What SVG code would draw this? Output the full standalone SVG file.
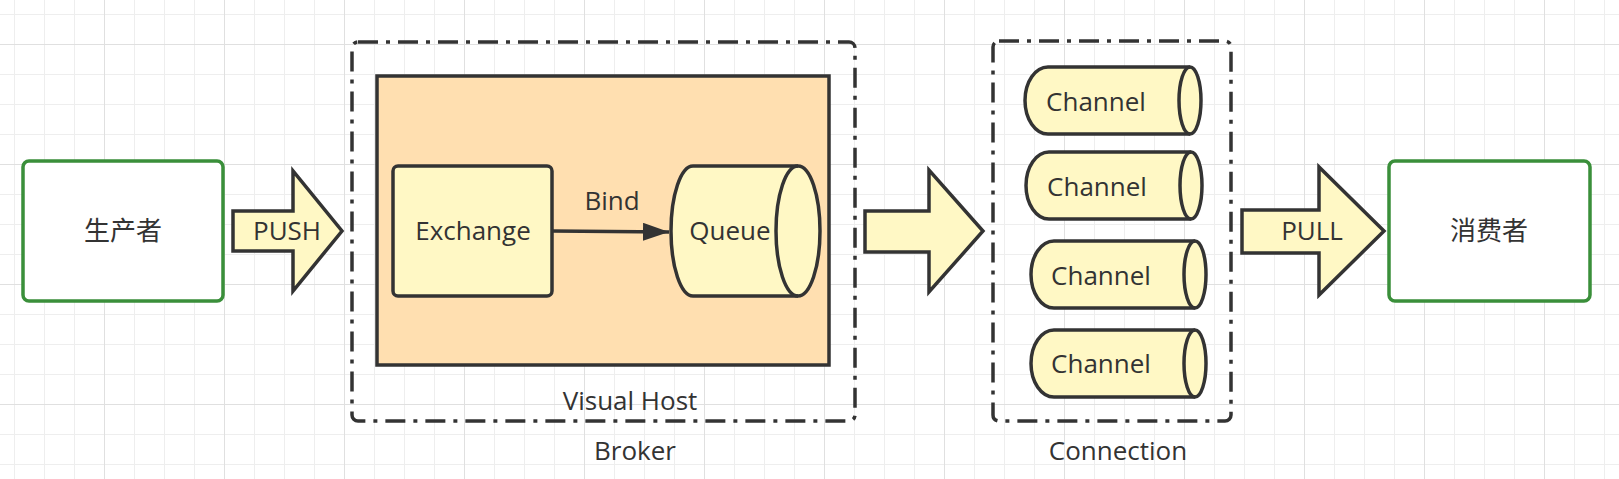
<svg xmlns="http://www.w3.org/2000/svg" width="1619" height="479" viewBox="0 0 1619 479">
  <defs>
    <pattern id="gridMinor" x="14" y="14" width="30" height="30" patternUnits="userSpaceOnUse">
      <rect x="0" y="0" width="1" height="30" fill="#eeeeee"/>
      <rect x="0" y="0" width="30" height="1" fill="#eeeeee"/>
    </pattern>
    <pattern id="gridMajor" x="104" y="44" width="120" height="120" patternUnits="userSpaceOnUse">
      <rect x="0" y="0" width="1" height="120" fill="#e0e0e0"/>
      <rect x="0" y="0" width="120" height="1" fill="#e0e0e0"/>
    </pattern>
    <marker id="arrowHead" viewBox="0 0 26 18" refX="26" refY="9" markerWidth="26" markerHeight="18" markerUnits="userSpaceOnUse" orient="auto">
      <path d="M0,0 L26,9 L0,18 Z" fill="#333333"/>
    </marker>
  </defs>
  <style>
    .txt { font-family: "Open Sans", "Noto Sans CJK SC", sans-serif; font-size: 26px; fill: #333333; text-anchor: middle; }
    .green { fill: #ffffff; stroke: #3a8f3a; stroke-width: 3.5; }
    .dark { stroke: #333333; stroke-width: 3.5; }
    .yellow { fill: #fff8c5; }
    .frame { fill: none; stroke: #333333; stroke-width: 3.5; stroke-dasharray: 20 8 4 8; }
  </style>
  <rect x="0" y="0" width="1619" height="479" fill="#ffffff"/>
  <rect x="0" y="0" width="1619" height="479" fill="url(#gridMinor)"/>
  <rect x="0" y="0" width="1619" height="479" fill="url(#gridMajor)"/>

  <g id="producer">
    <rect class="green" x="23" y="161" width="200" height="140" rx="6"/>
    <text class="txt" x="123" y="240">生产者</text>
  </g>

  <g id="push-arrow">
    <polygon class="dark yellow" points="233,211 293,211 293,171 342,231 293,291 293,251 233,251"/>
    <text class="txt" x="287" y="240">PUSH</text>
  </g>

  <g id="broker">
    <rect class="frame" x="352" y="42" width="503" height="379" rx="6"/>
    <text class="txt" x="635" y="460">Broker</text>
  </g>

  <g id="visual-host">
    <rect class="dark" fill="#ffdfb0" x="377" y="76" width="452" height="289"/>
    <text class="txt" x="630" y="410">Visual Host</text>
  </g>

  <g id="exchange">
    <rect class="dark yellow" x="393" y="166" width="159" height="130" rx="5"/>
    <text class="txt" x="473" y="240">Exchange</text>
  </g>

  <g id="queue">
    <path class="dark yellow" d="M693,166 L798,166 A22,65 0 0 1 798,296 L693,296 A22,65 0 0 1 693,166 Z"/>
    <path class="dark" fill="none" d="M798,166 A22,65 0 0 0 798,296"/>
    <text class="txt" x="730" y="240">Queue</text>
  </g>

  <g id="middle-arrow">
    <polygon class="dark yellow" points="865,211 929,211 929,170 983,231 929,292 929,252 865,252"/>
  </g>

  <g id="connection">
    <rect class="frame" x="993" y="41" width="238" height="380" rx="6"/>
    <text class="txt" x="1118" y="460">Connection</text>
  </g>

  <g id="channel-1">
    <path class="dark yellow" d="M1048,67 L1190,67 A11,33.5 0 0 1 1190,134 L1048,134 A23,33.5 0 0 1 1048,67 Z"/>
    <path class="dark" fill="none" d="M1190,67 A11,33.5 0 0 0 1190,134"/>
    <text class="txt" x="1096" y="111">Channel</text>
  </g>

  <g id="channel-2">
    <path class="dark yellow" d="M1049,152 L1191,152 A11,33.5 0 0 1 1191,219 L1049,219 A23,33.5 0 0 1 1049,152 Z"/>
    <path class="dark" fill="none" d="M1191,152 A11,33.5 0 0 0 1191,219"/>
    <text class="txt" x="1097" y="196">Channel</text>
  </g>

  <g id="channel-3">
    <path class="dark yellow" d="M1054,241 L1195,241 A11,33.5 0 0 1 1195,308 L1054,308 A23,33.5 0 0 1 1054,241 Z"/>
    <path class="dark" fill="none" d="M1195,241 A11,33.5 0 0 0 1195,308"/>
    <text class="txt" x="1101" y="285">Channel</text>
  </g>

  <g id="channel-4">
    <path class="dark yellow" d="M1054,330 L1195,330 A11,33.5 0 0 1 1195,397 L1054,397 A23,33.5 0 0 1 1054,330 Z"/>
    <path class="dark" fill="none" d="M1195,330 A11,33.5 0 0 0 1195,397"/>
    <text class="txt" x="1101" y="373">Channel</text>
  </g>

  <g id="pull-arrow">
    <polygon class="dark yellow" points="1242,210 1319,210 1319,167 1384,231 1319,295 1319,253 1242,253"/>
    <text class="txt" x="1312" y="240">PULL</text>
  </g>

  <g id="consumer">
    <rect class="green" x="1389" y="161" width="201" height="140" rx="6"/>
    <text class="txt" x="1489" y="240">消费者</text>
  </g>

  <g id="connectors">
    <line x1="552" y1="231" x2="669" y2="232" stroke="#333333" stroke-width="3.5" marker-end="url(#arrowHead)"/>
    <text class="txt" x="612" y="210">Bind</text>
  </g>
</svg>
